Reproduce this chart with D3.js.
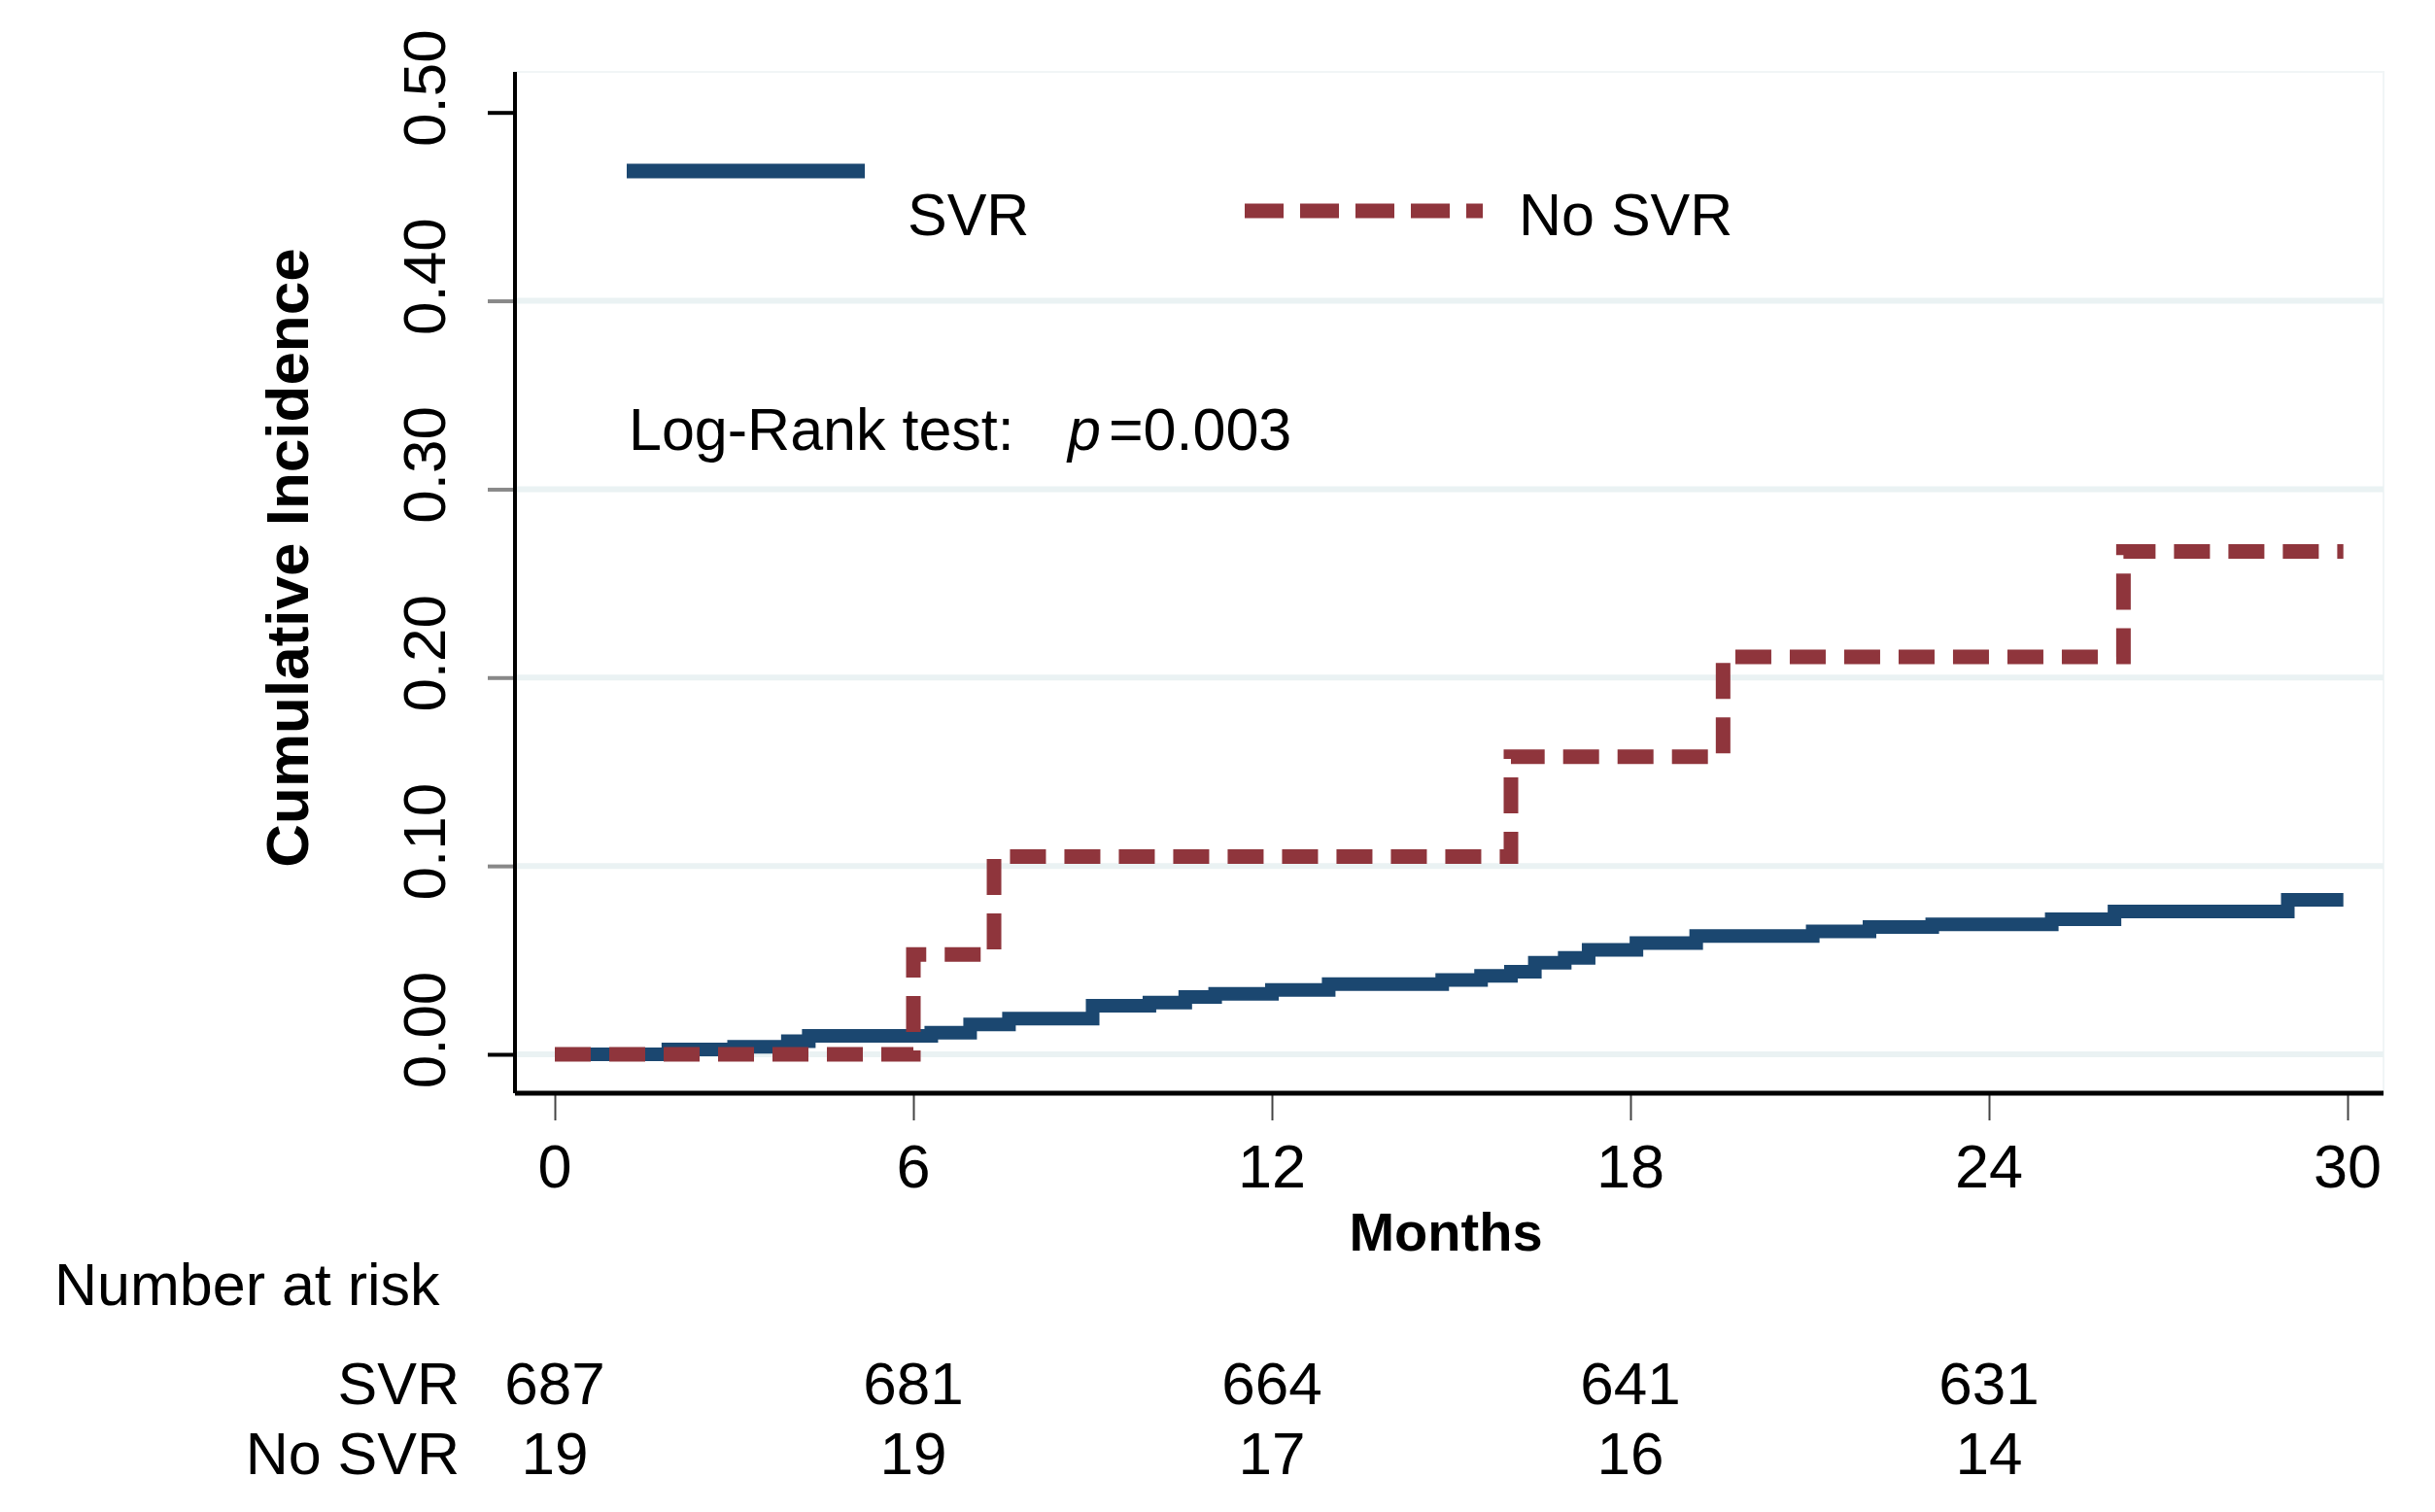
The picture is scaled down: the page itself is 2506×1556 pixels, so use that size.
<!DOCTYPE html>
<html>
<head>
<meta charset="utf-8">
<script src="https://cdn.jsdelivr.net/npm/d3@7"></script>
<style>
  html, body { margin: 0; padding: 0; background: #fff; }
  text { font-family: "Liberation Sans", Arial, sans-serif; fill: #000; }
</style>
</head>
<body>
<div id="chart"></div>
<script>
// values
const svrMonths = [0, 1.9, 3.0, 3.9, 4.25, 6.3, 6.95, 7.6, 9.0, 9.95, 10.55, 11.05, 12.0, 12.95,
  14.85, 15.5, 16.0, 16.4, 16.9, 17.3, 18.1, 19.1, 21.05, 22.0, 23.05, 25.05, 26.1, 29.0, 29.93];
const svrIncidence = [0, 0.0026, 0.004, 0.007, 0.0098, 0.0115, 0.0158, 0.019, 0.0258, 0.0275, 0.0304, 0.0321, 0.0342, 0.0373,
  0.0394, 0.0417, 0.0438, 0.0486, 0.0512, 0.0555, 0.059, 0.0628, 0.0653, 0.0676, 0.069, 0.0717, 0.0758, 0.082, 0.082];

const noSvrMonths = [0, 6.0, 7.35, 16.0, 19.55, 26.25, 29.93];
const noSvrIncidence = [0, 0.053, 0.105, 0.158, 0.211, 0.267, 0.267];

const xTicks = [0, 6, 12, 18, 24, 30];
const yTicks = [0, 0.1, 0.2, 0.3, 0.4, 0.5];
const gridTicks = [0, 0.1, 0.2, 0.3, 0.4];

const riskMonths = [0, 6, 12, 18, 24];
const svrAtRisk = [687, 681, 664, 641, 631];
const noSvrAtRisk = [19, 19, 17, 16, 14];

const width = 2506, height = 1556;
const plot = { left: 530, right: 2453, top: 74, bottom: 1125 };

const svg = d3.select("#chart").append("svg")
    .attr("width", width)
    .attr("height", height);

const x = d3.scaleLinear().domain([0, 30]).range([571, 2416]);
const y = d3.scaleLinear().domain([0, 0.5]).range([1085, 115.7]);

const blue = "#1b4770";
const red = "#8f353c";

// plot region outline (very faint)
svg.append("rect")
    .attr("x", plot.left).attr("y", plot.top)
    .attr("width", plot.right - plot.left).attr("height", plot.bottom - plot.top)
    .attr("fill", "none").attr("stroke", "#f1f5f6").attr("stroke-width", 2);

// gridlines
svg.append("g")
  .selectAll("line")
  .data(gridTicks)
  .join("line")
    .attr("x1", plot.left).attr("x2", plot.right)
    .attr("y1", d => y(d)).attr("y2", d => y(d))
    .attr("stroke", "#eaf2f3")
    .attr("stroke-width", 6);

// y axis
const yAxis = svg.append("g")
    .attr("transform", `translate(${plot.left},0)`)
    .call(d3.axisLeft(y).tickValues(yTicks).tickSize(28).tickFormat(""));
yAxis.select(".domain").remove();
yAxis.selectAll(".tick line")
    .attr("stroke", d => (d === 0 || d === 0.5) ? "#000" : "#888")
    .attr("stroke-width", 4);

svg.append("line")
    .attr("x1", plot.left).attr("x2", plot.left)
    .attr("y1", plot.top).attr("y2", plot.bottom)
    .attr("stroke", "#000").attr("stroke-width", 4);

svg.append("g")
  .selectAll("text")
  .data(yTicks)
  .join("text")
    .attr("transform", d => `translate(458,${y(d) - 25}) rotate(-90)`)
    .attr("text-anchor", "middle")
    .style("font-size", "62px")
    .text(d3.format(".2f"));

// x axis
const xAxis = svg.append("g")
    .attr("transform", `translate(0,${plot.bottom})`)
    .call(d3.axisBottom(x).tickValues(xTicks).tickSize(28).tickFormat(""));
xAxis.select(".domain").remove();
xAxis.selectAll(".tick line")
    .attr("stroke", "#444")
    .attr("stroke-width", 2);

svg.append("line")
    .attr("x1", plot.left).attr("x2", plot.right)
    .attr("y1", plot.bottom).attr("y2", plot.bottom)
    .attr("stroke", "#000").attr("stroke-width", 5);

svg.append("g")
  .selectAll("text")
  .data(xTicks)
  .join("text")
    .attr("x", d => x(d))
    .attr("y", 1222)
    .attr("text-anchor", "middle")
    .style("font-size", "63px")
    .text(d => d);

// axis titles
svg.append("text")
    .attr("x", 1488).attr("y", 1287)
    .attr("text-anchor", "middle")
    .style("font-size", "56px").style("font-weight", "bold")
    .text("Months");

svg.append("text")
    .attr("transform", "translate(317,574) rotate(-90)")
    .attr("text-anchor", "middle")
    .style("font-size", "62px").style("font-weight", "bold")
    .text("Cumulative Incidence");

// curves
const line = d3.line()
    .x(d => x(d[0]))
    .y(d => y(d[1]))
    .curve(d3.curveStepAfter);

const svrData = d3.zip(svrMonths, svrIncidence);
const noSvrData = d3.zip(noSvrMonths, noSvrIncidence);

svg.append("path")
    .datum(svrData)
    .attr("d", line)
    .attr("fill", "none")
    .attr("stroke", blue)
    .attr("stroke-width", 14);

svg.append("path")
    .datum(noSvrData)
    .attr("d", line)
    .attr("fill", "none")
    .attr("stroke", red)
    .attr("stroke-width", 15)
    .attr("stroke-dasharray", "37,19");

// legend
svg.append("line")
    .attr("x1", 645).attr("x2", 890).attr("y1", 176).attr("y2", 176)
    .attr("stroke", blue).attr("stroke-width", 15);
svg.append("text")
    .attr("x", 934).attr("y", 242)
    .style("font-size", "61px")
    .text("SVR");

svg.append("line")
    .attr("x1", 1281).attr("x2", 1526).attr("y1", 217).attr("y2", 217)
    .attr("stroke", red).attr("stroke-width", 15)
    .attr("stroke-dasharray", "40,17");
svg.append("text")
    .attr("x", 1563).attr("y", 242)
    .style("font-size", "61px")
    .text("No SVR");

// test annotation
svg.append("text")
    .attr("x", 647).attr("y", 463)
    .style("font-size", "61px")
    .text("Log-Rank test:");
svg.append("text")
    .attr("x", 1099).attr("y", 463)
    .style("font-size", "61px").style("font-style", "italic")
    .text("p");
svg.append("text")
    .attr("x", 1141).attr("y", 463)
    .style("font-size", "61px")
    .text("=0.003");

// number at risk table
svg.append("text")
    .attr("x", 56).attr("y", 1343)
    .style("font-size", "61px")
    .text("Number at risk");

const rows = [
  { label: "SVR", values: svrAtRisk, y: 1445 },
  { label: "No SVR", values: noSvrAtRisk, y: 1517 }
];

rows.forEach(r => {
  svg.append("text")
      .attr("x", 473).attr("y", r.y)
      .attr("text-anchor", "end")
      .style("font-size", "61px")
      .text(r.label);

  svg.append("g")
    .selectAll("text")
    .data(d3.zip(riskMonths, r.values))
    .join("text")
      .attr("x", d => x(d[0]))
      .attr("y", r.y)
      .attr("text-anchor", "middle")
      .style("font-size", "62px")
      .text(d => d[1]);
});
</script>
</body>
</html>
